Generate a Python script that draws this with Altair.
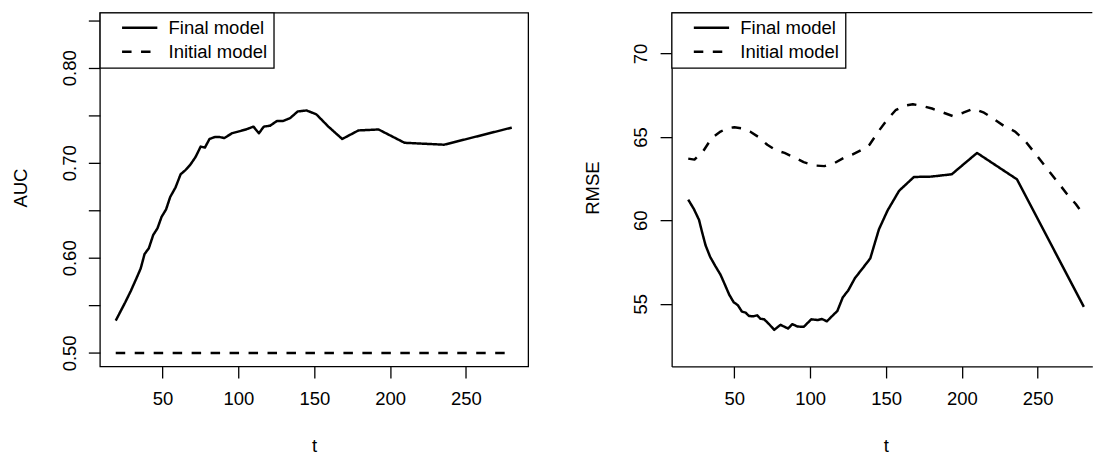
import altair as alt
import pandas as pd

FONT = "Liberation Sans"
FS = 18.7
LW = 2.5
BW = 1.3

models = ["Final model", "Initial model"]
x_ticks = [50, 100, 150, 200, 250]
auc_ticks = [0.50, 0.55, 0.60, 0.65, 0.70, 0.75, 0.80, 0.85]
rmse_ticks = [55, 60, 65, 70]

# ---- Left panel: AUC ----
t_auc = [19.1, 25.3, 29.0, 32.9, 35.6, 38.1, 40.9, 43.8, 46.6, 49.3, 52.3, 55.0,
         58.5, 61.9, 64.9, 68.3, 71.7, 75.1, 77.9, 80.9, 84.3, 87.7, 90.7, 95.7,
         100.3, 104.9, 109.9, 113.5, 116.7, 120.9, 125.4, 129.5, 134.1, 139.1,
         144.9, 151.3, 159.3, 168.4, 179.1, 192.4, 209.5, 235.6, 280.2]
auc_final = [0.534, 0.553, 0.565, 0.579, 0.589, 0.604, 0.610, 0.624, 0.631, 0.643,
             0.651, 0.664, 0.674, 0.688, 0.692, 0.698, 0.706, 0.717, 0.716, 0.725,
             0.727, 0.727, 0.726, 0.731, 0.733, 0.735, 0.738, 0.731, 0.738, 0.739,
             0.744, 0.744, 0.747, 0.754, 0.755, 0.751, 0.738, 0.725, 0.734, 0.735,
             0.721, 0.719, 0.737]
auc_initial = [0.50] * len(t_auc)

# ---- Right panel: RMSE ----
t_rmse = [19.6, 23.3, 26.7, 28.7, 31.0, 34.0, 37.4, 40.9, 43.8, 46.6, 49.5, 52.3,
          55.0, 57.5, 59.6, 62.6, 65.1, 67.1, 69.7, 72.9, 76.3, 80.4, 85.4, 88.2,
          91.6, 95.7, 100.7, 104.9, 107.8, 111.0, 114.5, 117.9, 121.5, 125.0,
          129.5, 134.6, 139.6, 145.3, 151.0, 158.6, 168.4, 179.6, 193.3, 210.0,
          236.3, 280.4]
rmse_final = [61.24, 60.68, 60.03, 59.30, 58.51, 57.82, 57.27, 56.74, 56.14, 55.55,
              55.10, 54.92, 54.53, 54.47, 54.27, 54.25, 54.31, 54.11, 54.07, 53.78,
              53.44, 53.74, 53.52, 53.78, 53.64, 53.62, 54.07, 54.03, 54.09, 53.95,
              54.27, 54.57, 55.39, 55.79, 56.54, 57.13, 57.72, 59.46, 60.59, 61.77,
              62.60, 62.62, 62.76, 64.04, 62.46, 54.82]
t_rmse_init = [19.6, 23.7, 29.4, 35.1, 40.9, 45.4, 50.0, 54.6, 60.3, 66.0, 71.7,
               77.4, 83.1, 88.9, 95.7, 102.6, 109.4, 116.3, 122.0, 127.7, 133.4,
               139.1, 144.9, 150.6, 156.3, 162.0, 167.7, 174.6, 180.3, 186.0, 194.0,
               200.9, 207.7, 214.6, 221.4, 228.3, 235.1, 242.0, 248.9, 255.7, 262.6,
               269.4, 275.1, 280.4]
rmse_init = [63.70, 63.64, 64.14, 64.93, 65.32, 65.52, 65.58, 65.52, 65.32, 64.99,
             64.53, 64.20, 64.04, 63.80, 63.49, 63.29, 63.25, 63.45, 63.74, 63.94,
             64.20, 64.53, 65.32, 66.01, 66.60, 66.86, 66.96, 66.84, 66.70, 66.51,
             66.25, 66.45, 66.70, 66.45, 66.05, 65.62, 65.32, 64.73, 63.94, 63.15,
             62.36, 61.57, 60.98, 60.33]

df_l = pd.DataFrame({
    "t": t_auc + t_auc,
    "v": auc_final + auc_initial,
    "model": [models[0]] * len(t_auc) + [models[1]] * len(t_auc),
})
df_r = pd.DataFrame({
    "t": t_rmse + t_rmse_init,
    "v": rmse_final + rmse_init,
    "model": [models[0]] * len(t_rmse) + [models[1]] * len(t_rmse_init),
})

W_L, H = 433.4, 358
W_R = 425.7


def dash_enc():
    return alt.StrokeDash(
        "model:N",
        scale=alt.Scale(domain=models, range=[[1, 0], [9.6, 9.6]]),
        legend=alt.Legend(
            title=None, orient="top-left", offset=0,
            symbolType="M1.19,0H7.19", symbolSize=141.6, symbolStrokeWidth=LW,
            symbolStrokeColor="black",
            labelFont=FONT, labelFontSize=FS, labelColor="black",
            labelOffset=44.8, padding=6, rowPadding=4.2,
            strokeColor="black", fillColor="white",
        ),
    )


def x_axis(domain):
    return alt.Axis(
        values=x_ticks, title="t", grid=False, domain=domain,
        domainColor="black", domainWidth=BW,
        tickSize=11.7, tickWidth=BW, tickColor="black",
        labelFont=FONT, labelFontSize=FS, labelColor="black",
        labelPadding=12, labelBaseline="top", labelFlush=False,
        titleFont=FONT, titleFontSize=FS, titleFontWeight="normal",
        titleColor="black", titleX=216.7, titleY=86,
        titleBaseline="alphabetic", titleAlign="center",
    )


def y_axis(title, values, domain, label_expr):
    return alt.Axis(
        values=values, title=title, grid=False, domain=domain,
        domainColor="black", domainWidth=BW,
        tickSize=11.7, tickWidth=BW, tickColor="black",
        labelFont=FONT, labelFontSize=FS, labelColor="black",
        labelAngle=270, labelAlign="center", labelBaseline="alphabetic",
        labelPadding=13.3, labelOverlap=False, labelFlush=False,
        labelExpr=label_expr,
        titleFont=FONT, titleFontSize=FS, titleFontWeight="normal",
        titleColor="black", titleAngle=270, titleX=-79.8, titleY=177,
        titleBaseline="middle", titleAlign="center",
    )


left = alt.Chart(df_l).mark_line(
    color="black", strokeWidth=LW, strokeCap="butt", strokeJoin="round"
).encode(
    x=alt.X("t:Q", scale=alt.Scale(domain=[8.66, 291.0], nice=False, zero=False),
            axis=x_axis(False)),
    y=alt.Y("v:Q", scale=alt.Scale(domain=[0.4858, 0.8579], nice=False, zero=False),
            axis=y_axis("AUC", auc_ticks, False,
                        "round(datum.value*20) % 2 == 0 ? format(datum.value, '.2f') : ''")),
    strokeDash=dash_enc(),
    order="t:Q",
).properties(width=W_L, height=H,
             view=alt.ViewBackground(stroke="black", strokeWidth=BW))

right_line = alt.Chart(df_r).mark_line(
    color="black", strokeWidth=LW, strokeCap="butt", strokeJoin="round"
).encode(
    x=alt.X("t:Q", scale=alt.Scale(domain=[8.66, 286.0], nice=False, zero=False),
            axis=x_axis(True)),
    y=alt.Y("v:Q", scale=alt.Scale(domain=[51.25, 72.445], nice=False, zero=False),
            axis=y_axis("RMSE", rmse_ticks, True, "format(datum.value, 'd')")),
    strokeDash=dash_enc(),
    order="t:Q",
)
top_edge = alt.Chart(pd.DataFrame({"edge": [0]})).mark_rule(
    color="black", strokeWidth=BW
).encode(x=alt.value(0), x2=alt.value(W_R), y=alt.value(0))

right = alt.layer(right_line, top_edge).properties(width=W_R, height=H)

chart = alt.hconcat(left, right, spacing=144.6, bounds="flush").resolve_scale(
    x="independent", y="independent", strokeDash="independent"
).resolve_legend(strokeDash="independent").properties(
    padding={"left": 3, "top": 0, "right": 0, "bottom": 0}
).configure_view(stroke="transparent").configure_legend(strokeWidth=BW)

chart.save("out.html", embed_options={"renderer": "svg", "actions": False})
